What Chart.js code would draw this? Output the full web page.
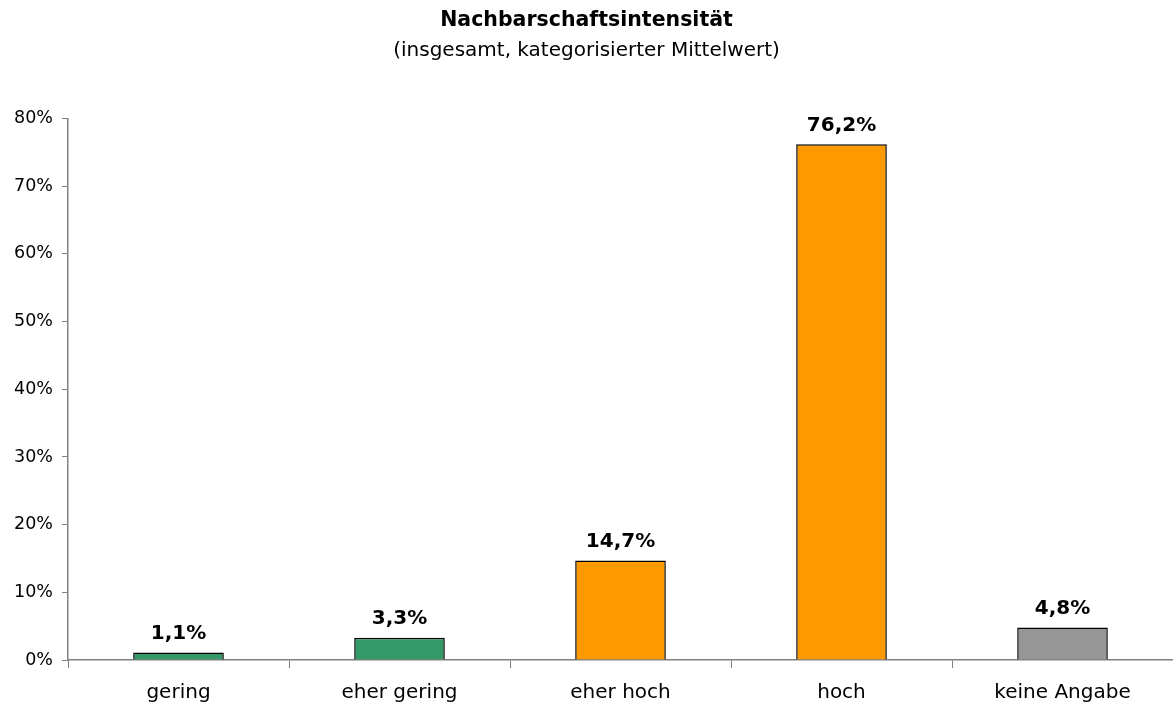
<!DOCTYPE html>
<html>
<head>
<meta charset="utf-8">
<script src="https://cdn.jsdelivr.net/npm/chart.js@4/dist/chart.umd.min.js"></script>
<style>
  html, body { margin: 0; padding: 0; background: #fff; }
  #wrap { width: 1173px; height: 711px; }
</style>
</head>
<body>
<div id="wrap"><canvas id="chart"></canvas></div>
<script>
// ── Data ──────────────────────────────────────────────
const categories = ['gering', 'eher gering', 'eher hoch', 'hoch', 'keine Angabe'];
const values     = [1.1, 3.3, 14.7, 76.2, 4.8];
const barColors  = ['#339966', '#339966', '#FF9900', '#FF9900', '#969696'];
const yTicks     = [0, 10, 20, 30, 40, 50, 60, 70, 80];

const FONT = "'DejaVu Sans', Verdana, sans-serif";
const AXIS = '#808080';

// value labels above each bar
const valueLabels = {
    id: 'valueLabels',
    afterDatasetsDraw(chart) {
        const ctx  = chart.ctx;
        const meta = chart.getDatasetMeta(0);
        ctx.save();
        ctx.font = 'bold 20px ' + FONT;
        ctx.fillStyle = '#000';
        ctx.textAlign = 'center';
        ctx.textBaseline = 'bottom';
        meta.data.forEach((bar, i) => {
            const txt = values[i].toFixed(1).replace('.', ',') + '%';
            ctx.fillText(txt, bar.x, bar.y - 9);
        });
        ctx.restore();
    }
};

new Chart(document.getElementById('chart'), {
    type: 'bar',
    data: {
        labels: categories,
        datasets: [{
            data: values,
            backgroundColor: barColors,
            borderColor: '#000',
            borderWidth: 1.5,
            categoryPercentage: 1,
            barPercentage: 0.41
        }]
    },
    options: {
        responsive: true,
        maintainAspectRatio: false,
        animation: false,
        layout: { padding: { left: 0, right: 0, top: 0, bottom: 0 } },
        plugins: {
            legend: { display: false },
            tooltip: { enabled: false },
            title: {
                display: true,
                text: 'Nachbarschaftsintensität',
                color: '#000',
                font: { family: FONT, size: 20.5, weight: 'bold' },
                padding: { top: 8, bottom: 4 }
            },
            subtitle: {
                display: true,
                text: '(insgesamt, kategorisierter Mittelwert)',
                color: '#000',
                font: { family: FONT, size: 20 },
                padding: { top: 2, bottom: 56 }
            }
        },
        scales: {
            x: {
                afterFit: axis => { axis.height = 51; },
                grid: {
                    offset: true,
                    drawOnChartArea: false,
                    tickLength: 8,
                    tickColor: AXIS
                },
                border: { color: AXIS, width: 1.5 },
                ticks: {
                    color: '#000',
                    font: { family: FONT, size: 20 },
                    padding: 13
                }
            },
            y: {
                min: 0,
                max: 80,
                afterBuildTicks: axis => { axis.ticks = yTicks.map(v => ({ value: v })); },
                afterFit: axis => { axis.width = 68; },
                grid: {
                    drawOnChartArea: false,
                    tickLength: 6,
                    tickColor: AXIS
                },
                border: { color: AXIS, width: 1.5 },
                ticks: {
                    color: '#000',
                    font: { family: FONT, size: 17.5 },
                    padding: 9,
                    callback: v => v + '%'
                }
            }
        }
    },
    plugins: [valueLabels]
});
</script>
</body>
</html>
